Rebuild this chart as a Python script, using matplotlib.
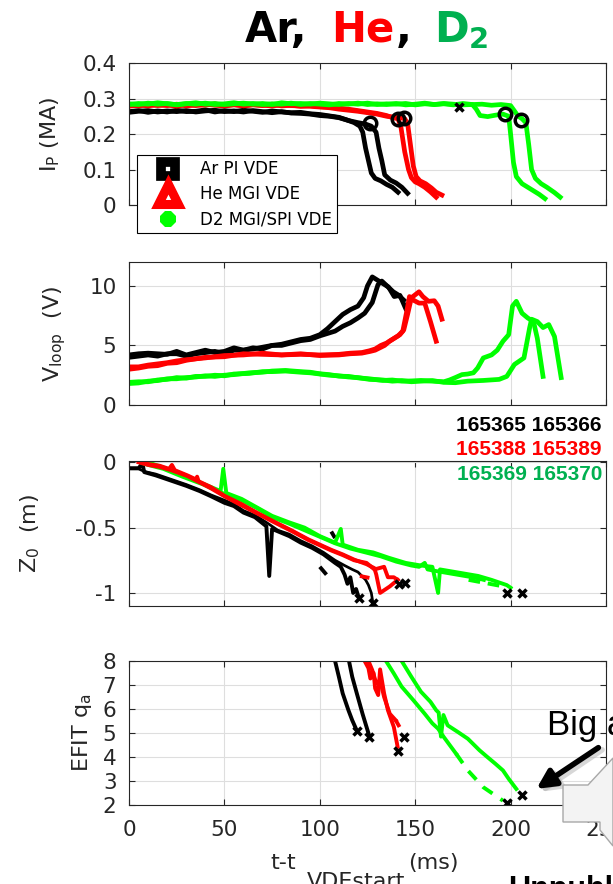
import matplotlib as mpl
mpl.use('Agg')
import matplotlib.pyplot as plt
from matplotlib.lines import Line2D
from matplotlib.markers import MarkerStyle
from matplotlib.patches import Polygon

plt.rcParams['font.family'] = ['DejaVu Sans']
plt.rcParams['mathtext.default'] = 'regular'

BLK = '#000000'
RED = '#ff0000'
GRN = '#00ff00'
GRN_TXT = '#00b050'
AXC = '#262626'

# ---------------- plasma current, MA ----------------
ar_ip1_t = [0, 5, 10, 15, 20, 25, 30, 35, 40, 45, 50, 55, 60, 65, 70, 75, 80, 85, 90, 95, 100,
            105, 110, 114, 118, 121, 122.5, 124, 125.5, 127, 129, 132, 135, 138, 141]
ar_ip1 = [0.263, 0.266, 0.261, 0.265, 0.262, 0.267, 0.263, 0.264, 0.268, 0.262, 0.266, 0.263, 0.267,
          0.264, 0.261, 0.265, 0.262, 0.260, 0.261, 0.257, 0.255,
          0.251, 0.247, 0.240, 0.232, 0.222, 0.205, 0.160, 0.125, 0.090, 0.075, 0.068, 0.058, 0.050, 0.036]
ar_ip2_t = [0, 5, 10, 15, 20, 25, 30, 35, 40, 45, 50, 55, 60, 65, 70, 75, 80, 85, 90, 95, 100, 105, 110,
            115, 120, 124, 127, 129.5, 131, 132.5, 134, 137, 140, 143, 146]
ar_ip2 = [0.261, 0.264, 0.266, 0.262, 0.265, 0.263, 0.266, 0.262, 0.265, 0.267, 0.263, 0.265, 0.262,
          0.266, 0.263, 0.260, 0.263, 0.259, 0.258, 0.256, 0.252, 0.250, 0.246,
          0.238, 0.232, 0.228, 0.222, 0.205, 0.160, 0.125, 0.085, 0.070, 0.062, 0.050, 0.033]

he_ip1_t = [0, 5, 10, 15, 20, 25, 30, 35, 40, 45, 50, 55, 60, 65, 70, 75, 80, 85, 90, 95, 100, 105,
            110, 115, 120, 125, 130, 135, 138, 141, 142.5, 144.5, 146.5, 148, 150, 152, 155, 158, 161]
he_ip1 = [0.278, 0.282, 0.279, 0.283, 0.280, 0.284, 0.279, 0.282, 0.281, 0.285, 0.280, 0.283, 0.279,
          0.282, 0.280, 0.284, 0.279, 0.281, 0.278, 0.280, 0.277, 0.276, 0.273, 0.270, 0.266, 0.262,
          0.258, 0.252, 0.246, 0.243, 0.220, 0.150, 0.100, 0.077, 0.065, 0.060, 0.050, 0.037, 0.022]
he_ip2_t = [0, 5, 10, 15, 20, 25, 30, 35, 40, 45, 50, 55, 60, 65, 70, 75, 80, 85, 90, 95, 100, 105,
            110, 115, 120, 125, 130, 135, 140, 143, 144.5, 146, 147.5, 149, 150.5, 152.5, 155.5, 158.5,
            161, 164]
he_ip2 = [0.281, 0.279, 0.283, 0.280, 0.282, 0.278, 0.283, 0.280, 0.284, 0.281, 0.279, 0.282, 0.280,
          0.283, 0.281, 0.279, 0.282, 0.280, 0.279, 0.278, 0.276, 0.274, 0.270, 0.267, 0.264, 0.260,
          0.256, 0.250, 0.247, 0.245, 0.243, 0.230, 0.170, 0.110, 0.080, 0.068, 0.060, 0.048, 0.036,
          0.028]

d2_ip1_t = [0, 5, 10, 15, 20, 25, 30, 35, 40, 45, 50, 55, 60, 65, 70, 75, 80, 85, 90, 95, 100, 105,
            110, 115, 120, 125, 130, 135, 140, 145, 150, 155, 160, 165, 170, 175, 180,
            182, 184, 188, 192, 196, 199, 200, 201.5, 203, 206, 209, 212, 215, 218]
d2_ip1 = [0.285, 0.283, 0.287, 0.284, 0.286, 0.282, 0.285, 0.288, 0.284, 0.286, 0.283, 0.285, 0.287,
          0.284, 0.286, 0.283, 0.288, 0.285, 0.286, 0.284, 0.287, 0.285, 0.283, 0.286, 0.284, 0.287,
          0.283, 0.285, 0.284, 0.286, 0.282, 0.285, 0.283, 0.286, 0.284, 0.282, 0.283,
          0.270, 0.252, 0.249, 0.253, 0.256, 0.250, 0.200, 0.120, 0.080, 0.060, 0.050, 0.040, 0.030, 0.018]
d2_ip2_t = [0, 5, 10, 15, 20, 25, 30, 35, 40, 45, 50, 55, 60, 65, 70, 75, 80, 85, 90, 95, 100, 105,
            110, 115, 120, 125, 130, 135, 140, 145, 150, 155, 160, 165, 170, 175, 180, 185, 190, 195, 200,
            202, 204, 206, 208, 209.5, 211, 213, 216, 219, 223, 226]
d2_ip2 = [0.283, 0.286, 0.284, 0.288, 0.285, 0.283, 0.286, 0.284, 0.287, 0.283, 0.285, 0.288, 0.284,
          0.286, 0.283, 0.285, 0.284, 0.287, 0.283, 0.286, 0.284, 0.282, 0.286, 0.284, 0.287, 0.283,
          0.285, 0.283, 0.286, 0.282, 0.284, 0.287, 0.283, 0.285, 0.282, 0.286, 0.283, 0.284, 0.281,
          0.283, 0.280,
          0.265, 0.250, 0.243, 0.232, 0.170, 0.100, 0.075, 0.060, 0.050, 0.035, 0.022]

circ_t = [126.5, 141, 144, 197, 205.5]
circ_ip = [0.230, 0.243, 0.245, 0.256, 0.240]
ipx_t = [173]
ipx_ip = [0.276]

# ---------------- loop voltage, V ----------------
ar_v1_t = [0, 5, 10, 15, 20, 25, 30, 35, 40, 45, 50, 55, 60, 65, 70, 75, 80, 85, 90, 95, 100, 104,
           108, 112, 116, 120, 123, 125, 127.5, 130, 133, 136, 139, 142, 145]
ar_v1 = [4.2, 4.3, 4.35, 4.3, 4.25, 4.5, 4.2, 4.4, 4.6, 4.4, 4.5, 4.8, 4.6, 4.7, 4.85, 5.0, 5.1, 5.3,
         5.5, 5.6, 5.9, 6.4, 7.0, 7.6, 8.0, 8.3, 9.0, 10.0, 10.75, 10.5, 10.2, 9.9, 9.1, 9.2, 8.1]
ar_v2_t = [0, 5, 10, 15, 20, 25, 30, 35, 40, 45, 50, 55, 60, 65, 70, 75, 80, 85, 90, 95, 100, 104,
           108, 112, 116, 120, 123.5, 127.5, 130.5, 132.5, 135.5, 138.5, 141, 144]
ar_v2 = [4.0, 4.1, 4.2, 4.1, 4.3, 4.3, 4.1, 4.3, 4.4, 4.5, 4.3, 4.6, 4.6, 4.8, 4.7, 5.0, 5.0, 5.2,
         5.4, 5.5, 5.8, 6.0, 6.2, 6.6, 6.9, 7.3, 7.7, 8.6, 10.1, 10.4, 9.95, 9.5, 9.25, 8.8]

he_v1_t = [0, 5, 10, 15, 20, 25, 30, 40, 50, 60, 70, 80, 90, 100, 110, 116, 122, 126.5, 129, 131.5,
           134, 136.5, 139, 142, 144, 146, 148, 150, 152, 154, 157, 160, 162, 164]
he_v1 = [3.0, 3.1, 3.25, 3.3, 3.5, 3.55, 3.75, 4.0, 4.05, 4.3, 4.25, 4.2, 4.3, 4.15, 4.2, 4.3, 4.35,
         4.5, 4.6, 4.8, 5.0, 5.35, 5.6, 5.9, 6.3, 7.6, 9.0, 9.25, 9.5, 9.1, 8.7, 8.75, 8.3, 7.2]
he_v2_t = [0, 5, 10, 15, 20, 25, 30, 40, 50, 60, 70, 80, 90, 100, 110, 116, 122, 126, 129, 132, 135,
           138, 141, 143.5, 145.5, 147, 149, 152, 155, 158, 161]
he_v2 = [3.2, 3.2, 3.35, 3.45, 3.55, 3.7, 3.8, 3.95, 4.15, 4.2, 4.35, 4.2, 4.25, 4.2, 4.25, 4.35, 4.4,
         4.55, 4.7, 5.0, 5.2, 5.5, 5.8, 6.2, 7.8, 9.1, 8.8, 8.55, 8.55, 7.0, 5.35]

d2_v1_t = [0, 5, 10, 15, 20, 25, 30, 35, 40, 45, 50, 55, 63, 70, 75, 82, 90, 95, 100, 105, 110, 115,
           120, 126, 133, 138, 143, 148, 153, 159, 165, 168, 171, 174.5, 177.5, 180.5, 182.7, 185.7,
           190, 193, 196, 199, 201, 203, 206, 209, 212, 214, 217]
d2_v1 = [1.8, 1.85, 2.0, 2.05, 2.2, 2.2, 2.3, 2.35, 2.45, 2.4, 2.5, 2.55, 2.7, 2.75, 2.85, 2.9, 2.8,
         2.75, 2.62, 2.55, 2.42, 2.4, 2.28, 2.2, 2.06, 2.1, 2.0, 2.02, 2.06, 2.0, 1.95, 2.1, 2.3, 2.55,
         2.6, 2.7, 3.1, 3.95, 4.2, 4.6, 5.35, 5.9, 8.3, 8.7, 7.7, 7.3, 7.0, 5.6, 2.4]
d2_v2_t = [0, 5, 10, 15, 20, 25, 30, 35, 40, 45, 50, 55, 63, 70, 75, 82, 90, 95, 100, 105, 110, 115,
           120, 126, 133, 138, 143, 148, 153, 159, 165, 171, 177.5, 185.7, 194, 198, 202, 207, 210, 211,
           214, 217, 220, 223, 226.5]
d2_v2 = [1.9, 1.95, 1.95, 2.1, 2.15, 2.3, 2.25, 2.4, 2.4, 2.5, 2.45, 2.6, 2.65, 2.8, 2.8, 2.85, 2.75,
         2.7, 2.6, 2.5, 2.45, 2.35, 2.3, 2.15, 2.1, 2.0, 2.05, 1.95, 2.0, 2.05, 1.9, 1.87, 2.0, 2.06,
         2.15, 2.4, 3.4, 3.95, 6.5, 7.2, 7.0, 6.5, 6.75, 5.75, 2.3]

# ---------------- vertical position, m ----------------
ar_z1_t = [0, 5, 7, 8, 14, 22, 30, 37, 43, 50, 55, 60, 66, 72, 73.5, 75, 84, 90, 96, 102, 108, 111,
           113, 114.5, 116, 117.5, 119, 120.5]
ar_z1 = [-0.045, -0.045, -0.01, -0.075, -0.10, -0.14, -0.18, -0.22, -0.26, -0.31, -0.335, -0.385,
         -0.42, -0.49, -0.87, -0.51, -0.565, -0.615, -0.655, -0.705, -0.77, -0.80, -0.86, -0.93, -0.88,
         -1.0, -0.97, -1.04]
ar_z2_t = [0, 5, 8, 14, 22, 30, 37, 43, 50, 55, 60, 66, 72, 78, 84, 90, 96, 102, 108, 113, 117, 120,
           122, 124, 125.5, 127, 128]
ar_z2 = [-0.05, -0.05, -0.07, -0.09, -0.13, -0.17, -0.21, -0.25, -0.29, -0.32, -0.37, -0.405, -0.46,
         -0.52, -0.55, -0.60, -0.64, -0.69, -0.75, -0.79, -0.82, -0.84, -0.87, -0.90, -0.94, -1.0, -1.09]
ar_zd1_t = [100, 103.5]
ar_zd1 = [-0.80, -0.86]
ar_zd2_t = [106, 108]
ar_zd2 = [-0.53, -0.58]

he_z1_t = [5, 10, 16, 21, 22.5, 24, 30.6, 35, 35.7, 36.5, 43, 50, 59, 67, 75.5, 85.7, 94, 100, 106,
           112, 118, 124.5, 128.6, 129.6, 131.6, 136.7, 140.8]
he_z1 = [0.013, -0.013, -0.026, -0.05, -0.02, -0.06, -0.10, -0.13, -0.11, -0.145, -0.19, -0.256,
         -0.32, -0.385, -0.45, -0.525, -0.59, -0.63, -0.67, -0.705, -0.745, -0.78, -0.81, -0.86, -1.0,
         -0.95, -0.90]
he_z2_t = [5, 10, 16, 22, 30.6, 43, 50, 59, 67, 75.5, 85.7, 94, 100, 106, 112, 118, 124.5, 128.6,
           133.7, 135.7, 138.8, 140.8]
he_z2 = [0.0, -0.02, -0.035, -0.06, -0.105, -0.20, -0.26, -0.33, -0.39, -0.455, -0.53, -0.595, -0.635,
         -0.675, -0.71, -0.75, -0.77, -0.82, -0.80, -0.88, -0.88, -0.90]
he_zd_t = [121, 126]
he_zd = [-0.87, -0.885]

d2_z1_t = [6, 10, 18, 28, 39, 48, 49.4, 51, 59, 67, 75, 84, 92, 100, 108, 111, 112, 120, 128, 136,
           145, 153, 159, 162, 163, 173, 183, 190, 198, 200]
d2_z1 = [0.013, 0.0, -0.04, -0.10, -0.165, -0.22, -0.05, -0.235, -0.28, -0.345, -0.41, -0.46, -0.50,
         -0.565, -0.615, -0.51, -0.63, -0.67, -0.69, -0.73, -0.77, -0.79, -0.80, -1.0, -0.82, -0.845,
         -0.87, -0.90, -0.94, -0.96]
d2_z2_t = [6, 10, 18, 28, 39, 48, 59, 67, 75, 84, 92, 100, 108, 116, 124, 132, 140, 148, 152, 155,
           156.5, 160, 168, 176, 182, 186]
d2_z2 = [0.0, -0.02, -0.05, -0.11, -0.17, -0.23, -0.29, -0.35, -0.42, -0.47, -0.52, -0.57, -0.62,
         -0.66, -0.69, -0.72, -0.76, -0.79, -0.80, -0.77, -0.82, -0.83, -0.85, -0.87, -0.885, -0.90]
d2_zd_t = [178, 198]
d2_zd = [-0.90, -0.955]

zx_t = [120.5, 128, 141.5, 144.5, 198, 206]
zx_z = [-1.04, -1.08, -0.93, -0.925, -1.0, -1.0]

# ---------------- EFIT edge safety factor ----------------
ar_q1_t = [108, 110, 112, 115, 117, 119.4]
ar_q1 = [8.0, 7.34, 6.65, 5.95, 5.53, 5.1]
ar_q2_t = [115.3, 117, 119.4, 122.4, 124.5, 126]
ar_q2 = [8.0, 7.34, 6.65, 5.8, 5.25, 4.86]

he_q1_t = [123.5, 125.5, 126.5, 128.2, 129, 130.6, 131.6, 133.7, 135.7, 138.8, 140.8]
he_q1 = [8.0, 7.7, 7.27, 7.5, 6.86, 6.58, 7.65, 6.65, 5.95, 5.25, 4.42]
he_q2_t = [125.5, 127.5, 129.6, 131.6, 133.7, 136.7, 139.8]
he_q2 = [8.0, 7.62, 7.07, 7.2, 6.5, 5.8, 5.53]
he_qd_t = [139.8, 141.8]
he_qd = [5.53, 5.25]

d2_q1_t = [134.7, 138.8, 142.9, 149, 155, 159, 162, 165, 171.4]
d2_q1 = [8.0, 7.48, 6.93, 6.37, 5.8, 5.4, 5.18, 4.83, 4.14]
d2_qd1_t = [171.4, 177.6, 185.7, 196]
d2_qd1 = [4.14, 3.44, 2.74, 2.18]
d2_q2_t = [142.9, 148, 153, 158, 161, 162.3, 163.5, 164.8, 167, 172.4, 177.6, 183.7, 187.8, 192, 196,
           199, 203]
d2_q2 = [8.0, 7.34, 6.72, 6.3, 5.95, 5.85, 4.85, 5.75, 5.32, 5.04, 4.76, 4.28, 4.0, 3.72, 3.44,
         3.09, 2.67]

qx_t = [119.4, 126, 141, 144, 198, 206]
qx_q = [5.07, 4.83, 4.25, 4.83, 2.1, 2.4]

# ---------------- layout ----------------
W, H = 613, 884
fig = plt.figure(figsize=(W / 100, H / 100), dpi=100)

left = 129 / W
width = 477 / W
rows = [(205, 142), (405, 143), (606, 145), (805, 144)]
axs = [fig.add_axes([left, 1 - b / H, width, h / H]) for b, h in rows]
ax1, ax2, ax3, ax4 = axs

LW = 3.4
ax1.plot(ar_ip1_t, ar_ip1, color=BLK, lw=LW)
ax1.plot(ar_ip2_t, ar_ip2, color=BLK, lw=LW)
ax1.plot(he_ip1_t, he_ip1, color=RED, lw=LW)
ax1.plot(he_ip2_t, he_ip2, color=RED, lw=LW)
ax1.plot(d2_ip1_t, d2_ip1, color=GRN, lw=LW)
ax1.plot(d2_ip2_t, d2_ip2, color=GRN, lw=LW)
ax1.plot(circ_t, circ_ip, ls='none', marker='o', ms=9, mfc='none', mec=BLK, mew=2.5)
ax1.plot(ipx_t, ipx_ip, ls='none', marker='x', ms=6, mec=BLK, mew=2.5)
ax1.set_ylim(0, 0.4)
ax1.set_yticks([0, 0.1, 0.2, 0.3, 0.4])
ax1.set_yticklabels(['0', '0.1', '0.2', '0.3', '0.4'])
ax1.set_ylabel(r'I$_{P}$ (MA)')

ax2.plot(ar_v1_t, ar_v1, color=BLK, lw=LW)
ax2.plot(ar_v2_t, ar_v2, color=BLK, lw=LW)
ax2.plot(he_v1_t, he_v1, color=RED, lw=LW)
ax2.plot(he_v2_t, he_v2, color=RED, lw=LW)
ax2.plot(d2_v1_t, d2_v1, color=GRN, lw=LW)
ax2.plot(d2_v2_t, d2_v2, color=GRN, lw=LW)
ax2.set_ylim(0, 12)
ax2.set_yticks([0, 5, 10])
ax2.set_ylabel(r'V$_{loop}$  (V)')

LZ = 2.8
ax3.plot(ar_z1_t, ar_z1, color=BLK, lw=LZ)
ax3.plot(ar_z2_t, ar_z2, color=BLK, lw=LZ * 0.7)
ax3.plot(ar_zd1_t, ar_zd1, color=BLK, lw=LZ, ls='--')
ax3.plot(ar_zd2_t, ar_zd2, color=BLK, lw=LZ, ls='--')
ax3.plot(d2_z1_t, d2_z1, color=GRN, lw=LZ)
ax3.plot(d2_z2_t, d2_z2, color=GRN, lw=LZ)
ax3.plot(d2_zd_t, d2_zd, color=GRN, lw=LZ, ls='--', dashes=(3, 2))
ax3.plot(he_z1_t, he_z1, color=RED, lw=LZ)
ax3.plot(he_z2_t, he_z2, color=RED, lw=LZ)
ax3.plot(he_zd_t, he_zd, color=RED, lw=LZ, ls='--')
ax3.plot(zx_t, zx_z, ls='none', marker='x', ms=6, mec=BLK, mew=2.5)
ax3.set_ylim(-1.1, 0.01)
ax3.set_yticks([-1, -0.5, 0])
ax3.set_yticklabels(['-1', '-0.5', '0'])
ax3.set_ylabel(r'Z$_{0}$  (m)')

ax4.plot(ar_q1_t, ar_q1, color=BLK, lw=LZ)
ax4.plot(ar_q2_t, ar_q2, color=BLK, lw=LZ)
ax4.plot(he_q1_t, he_q1, color=RED, lw=LZ)
ax4.plot(he_q2_t, he_q2, color=RED, lw=LZ)
ax4.plot(he_qd_t, he_qd, color=RED, lw=LZ, ls='--', dashes=(3, 2))
ax4.plot(d2_q1_t, d2_q1, color=GRN, lw=LZ)
ax4.plot(d2_qd1_t, d2_qd1, color=GRN, lw=LZ, ls='--', dashes=(3, 2.5))
ax4.plot(d2_q2_t, d2_q2, color=GRN, lw=LZ)
ax4.plot(qx_t, qx_q, ls='none', marker='x', ms=6, mec=BLK, mew=2.5)
ax4.set_ylim(2, 8)
ax4.set_yticks([2, 3, 4, 5, 6, 7, 8])
ax4.set_ylabel(r'EFIT q$_{a}$')

label_x = [-0.141, -0.128, -0.182, -0.073]
for i, ax in enumerate(axs):
    ax.set_xlim(0, 250)
    ax.set_xticks([0, 50, 100, 150, 200, 250])
    ax.grid(True, color='#dedede', lw=0.8)
    ax.set_axisbelow(True)
    ax.tick_params(direction='in', length=4, width=0.8, top=True, right=True,
                   labelsize=15.5, colors=AXC)
    ax.tick_params(axis='x', pad=11)
    ax.tick_params(axis='y', pad=9)
    for sp in ax.spines.values():
        sp.set_color(AXC)
        sp.set_linewidth(0.8)
    ax.yaxis.label.set_size(16)
    ax.yaxis.label.set_color(AXC)
    ax.yaxis.set_label_coords(label_x[i], 0.5)
    if i < 3:
        ax.tick_params(labelbottom=False)

# legend with the MATLAB-style marker handles
h_ar = Line2D([], [], ls='none', marker=MarkerStyle('s', joinstyle='miter'), ms=10, mew=7,
              mec=BLK, mfc='w')
h_he = Line2D([], [], ls='none', marker=MarkerStyle('^', joinstyle='miter'), ms=15, mew=6.5,
              mec=RED, mfc='w')
h_d2 = Line2D([], [], ls='none', marker='8', ms=12.5, mfc=GRN, mec=GRN, mew=0)
leg = ax1.legend([h_ar, h_he, h_d2], ['Ar PI VDE', 'He MGI VDE', 'D2 MGI/SPI VDE'],
                 loc='lower left', bbox_to_anchor=(0.017, -0.2), borderaxespad=0,
                 fancybox=False, edgecolor=BLK, framealpha=1, fontsize=12,
                 handlelength=3.1, handletextpad=0.4, borderpad=0.3, labelspacing=0.42)
leg.get_frame().set_linewidth(0.8)

# title in three colours, pieces laid end to end
ty = 1 - 42 / H
renderer = fig.canvas.get_renderer()
title_parts = [('Ar,', BLK, 0), ('He', RED, 24), (',', BLK, 1), (r'D$_\mathbf{2}$', GRN_TXT, 22)]
x_px = 245
for s, c, gap in title_parts:
    x_px += gap
    t = fig.text(x_px / W, ty, s, color=c, fontsize=30, fontweight='bold', va='baseline')
    x_px += t.get_window_extent(renderer).width

# shot numbers
shots = [('165365 165366', BLK, 431), ('165388 165389', RED, 455), ('165369 165370', GRN_TXT, 480)]
for s, c, yb in shots:
    fig.text(602 / W, 1 - yb / H, s, color=c, fontsize=15, fontweight='bold',
             family=['Liberation Sans', 'DejaVu Sans'], ha='right', va='baseline')

# x label pieces
fig.text(270 / W, 1 - 869 / H, 't-t', fontsize=16, color=AXC, va='baseline')
fig.text(307 / W, 1 - 872 / H, 'VDEstart', fontsize=16, color=AXC, va='top')
fig.text(408 / W, 1 - 869 / H, '(ms)', fontsize=16, color=AXC, va='baseline')

# callout box at the lower right
pts = [(563, 785), (588, 785), (613, 758), (613, 846), (600, 830), (600, 822), (563, 822)]
fig.add_artist(Polygon([(x / W, 1 - y / H) for x, y in pts], closed=True, transform=fig.transFigure,
                       facecolor='#f3f3f3', edgecolor='#a8a8a8', lw=1, zorder=5))

# arrow and note
ax4.annotate('', xy=(215.5, 2.55), xytext=(248, 4.3),
             arrowprops=dict(arrowstyle='-|>', color='#b0b0b0', lw=4, mutation_scale=28,
                             shrinkA=0, shrinkB=0, alpha=0.5),
             annotation_clip=False)
ax4.annotate('', xy=(213.5, 2.67), xytext=(246, 4.39),
             arrowprops=dict(arrowstyle='-|>', color=BLK, lw=4, mutation_scale=28,
                             shrinkA=0, shrinkB=0),
             annotation_clip=False)
fig.text(547 / W, 1 - 735 / H, 'Big a', fontsize=25, family=['Liberation Sans', 'DejaVu Sans'],
         va='baseline')
fig.text(508 / W, 1 - 875 / H, 'Unpublished', fontsize=22, fontweight='bold',
         family=['Liberation Sans', 'DejaVu Sans'], va='top')

fig.savefig('out.png', dpi=100)
